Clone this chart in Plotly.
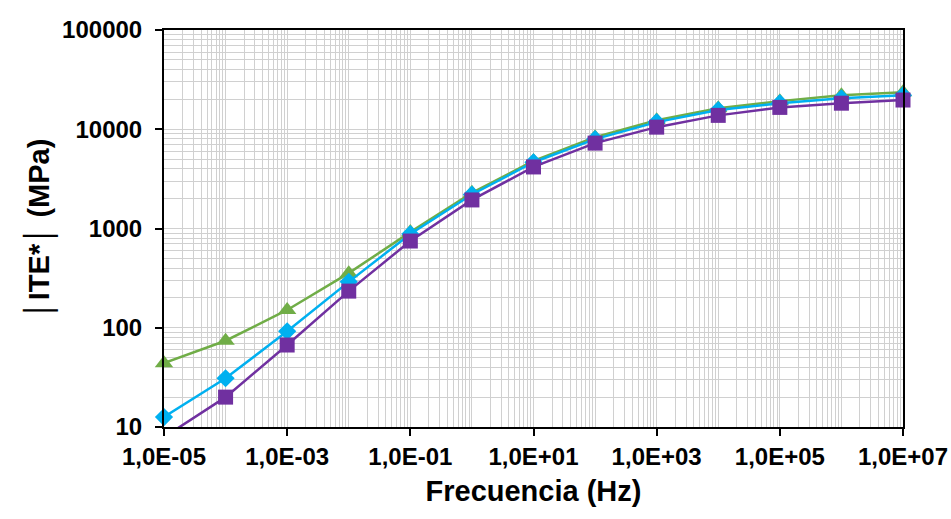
import plotly.graph_objects as go

freq = [1e-5, 1e-4, 1e-3, 1e-2, 1e-1, 1e0, 1e1, 1e2, 1e3, 1e4, 1e5, 1e6, 1e7]
green_vals = [44, 74, 151, 355, 920, 2290, 4800, 8300, 12300, 16300, 19200, 22000, 23600]
blue_vals = [12.6, 31, 92, 290, 880, 2200, 4650, 7950, 11800, 15600, 18300, 20500, 22000]
purple_vals = [7.9, 20, 67, 234, 748, 1940, 4170, 7250, 10500, 13800, 16600, 18300, 19700]

x_tickvals = [1e-5, 1e-3, 1e-1, 1e1, 1e3, 1e5, 1e7]
x_ticktext = ["1,0E-05", "1,0E-03", "1,0E-01", "1,0E+01", "1,0E+03", "1,0E+05", "1,0E+07"]
y_tickvals = [10, 100, 1000, 10000, 100000]
y_ticktext = ["10", "100", "1000", "10000", "100000"]

x_minor = [m * 10 ** e for e in range(-5, 7) for m in range(1, 10)] + [1e7]
y_minor = [m * 10 ** e for e in range(1, 5) for m in range(1, 10)] + [1e5]

GRID = "#d0d0d0"
FONT = "Liberation Sans, Arial, sans-serif"

fig = go.Figure()
fig.add_trace(go.Scatter(x=freq, y=green_vals, mode="lines+markers",
                         line=dict(color="#70AD47", width=2.5),
                         marker=dict(symbol="triangle-up", size=16, color="#70AD47", opacity=1,
                                     line=dict(width=0)),
                         cliponaxis=False))
fig.add_trace(go.Scatter(x=freq, y=blue_vals, mode="lines+markers",
                         line=dict(color="#00B0F0", width=2.5),
                         marker=dict(symbol="diamond", size=14, color="#00B0F0", opacity=1,
                                     line=dict(width=0)),
                         cliponaxis=False))
fig.add_trace(go.Scatter(x=freq, y=purple_vals, mode="lines+markers",
                         line=dict(color="#7030A0", width=2.5),
                         marker=dict(symbol="square", size=[0] + [15] * 12, color="#7030A0", opacity=1,
                                     line=dict(width=0)),
                         cliponaxis=False))

fig.update_layout(
    width=951, height=519,
    margin=dict(l=164, r=48, t=30, b=92),
    paper_bgcolor="white", plot_bgcolor="white",
    showlegend=False,
    font=dict(family=FONT, color="black"),
)
fig.update_xaxes(
    type="log", range=[-5, 7], automargin=False,
    tickmode="array", tickvals=x_tickvals, ticktext=["<b>%s</b>" % t for t in x_ticktext],
    tickfont=dict(size=24, family=FONT), ticks="outside", ticklen=7, tickwidth=1.5, tickcolor="black",
    showgrid=False,
    minor=dict(tickmode="array", tickvals=x_minor, showgrid=True, gridcolor=GRID, gridwidth=1, ticks=""),
    showline=True, linecolor="black", linewidth=2, mirror=True,
    title=dict(text="<b>Frecuencia (Hz)</b>", font=dict(size=29, family=FONT), standoff=12),
    zeroline=False,
)
fig.update_yaxes(
    type="log", range=[1, 5], automargin=False,
    tickmode="array", tickvals=y_tickvals, ticktext=["<b>%s</b>" % t for t in y_ticktext],
    tickfont=dict(size=24, family=FONT), ticks="outside", ticklen=7, tickwidth=1.5, tickcolor="black",
    ticklabelstandoff=8,
    showgrid=False,
    minor=dict(tickmode="array", tickvals=y_minor, showgrid=True, gridcolor=GRID, gridwidth=1, ticks=""),
    showline=True, linecolor="black", linewidth=2, mirror=True,
    title=dict(text="<b>│ITE*│ (MPa)</b>", font=dict(size=29, family=FONT), standoff=4),
    zeroline=False,
)

fig.write_html("out.html")
